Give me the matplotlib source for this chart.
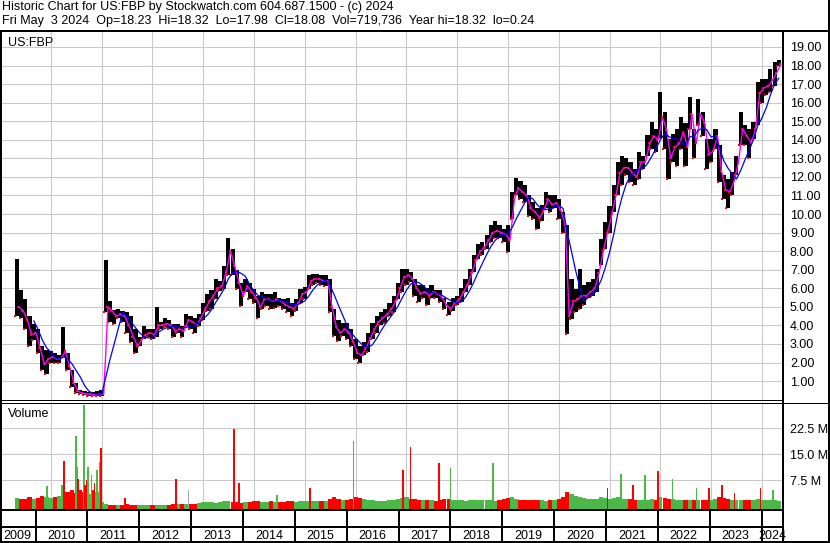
import numpy as np
import pandas as pd
import matplotlib
matplotlib.use("Agg")
import matplotlib.pyplot as plt
from matplotlib.lines import Line2D

W, H = 830, 543

# monthly bars, May 2009 .. May 2024
months = pd.date_range("2009-05-01", "2024-05-01", freq="MS")

hi = [7.6, 5.9, 5.4, 4.5, 4.1, 3.8, 2.9, 2.7,                        # 2009
      2.6, 2.5, 2.4, 3.9, 2.5, 1.6, 0.9, 0.5, 0.45, 0.4, 0.4, 0.45,  # 2010
      0.5, 7.5, 5.3, 4.85, 4.9, 4.8, 4.7, 4.5, 3.8, 3.4, 3.95, 3.8,  # 2011
      3.8, 5.0, 4.2, 4.4, 4.3, 4.1, 4.1, 3.95, 4.6, 4.5, 4.4, 4.6,   # 2012
      5.2, 5.7, 5.9, 6.5, 6.4, 7.2, 8.7, 8.1, 7.0, 6.3, 6.5, 6.3,    # 2013
      5.95, 5.6, 5.8, 5.7, 5.7, 5.8, 5.5, 5.4, 5.5, 5.2, 5.4, 5.95,  # 2014
      6.05, 6.7, 6.75, 6.75, 6.7, 6.7, 6.5, 4.9, 4.3, 4.15, 4.15, 3.8,  # 2015
      3.25, 2.9, 3.1, 3.6, 4.15, 4.5, 4.7, 4.9, 5.2, 5.6, 6.3, 7.05,    # 2016
      7.05, 6.9, 6.5, 6.15, 6.15, 6.0, 6.15, 5.9, 5.9, 5.45, 5.25, 5.45,  # 2017
      5.6, 6.0, 6.5, 7.05, 7.8, 8.4, 8.5, 8.85, 9.4, 9.6, 9.4, 9.2,       # 2018
      9.4, 11.2, 11.95, 11.8, 11.55, 11.0, 10.65, 10.3, 10.5, 11.2, 11.0, 11.0,  # 2019
      10.8, 10.1, 9.4, 6.5, 5.95, 7.05, 6.15, 6.35, 6.5, 7.05, 8.65, 9.55,       # 2020
      10.45, 11.55, 12.8, 13.15, 13.0, 12.8, 12.45, 13.35, 13.15, 14.25, 14.95, 14.6,  # 2021
      16.6, 15.5, 14.05, 14.3, 14.6, 15.2, 14.9, 16.3, 14.6, 16.2, 15.5, 14.05,       # 2022
      14.05, 14.6, 13.7, 12.1, 11.9, 12.25, 13.15, 15.5, 14.8, 14.6, 14.95, 17.1,     # 2023
      17.3, 17.3, 17.8, 18.2, 18.32]                                                 # 2024
lo = [4.5, 4.4, 3.8, 2.9, 3.2, 2.5, 1.6, 1.4,
      2.0, 2.0, 2.0, 2.3, 1.6, 0.7, 0.35, 0.3, 0.25, 0.2, 0.2, 0.2,
      0.2, 4.7, 4.2, 4.1, 4.4, 4.2, 3.6, 3.1, 2.5, 2.9, 3.25, 3.4,
      3.25, 3.4, 3.8, 3.9, 3.8, 3.35, 3.6, 3.35, 3.95, 3.8, 3.6, 3.95,
      4.3, 4.8, 4.9, 5.4, 5.85, 5.95, 6.7, 6.7, 5.95, 5.05, 5.8, 5.4,
      5.2, 4.4, 4.9, 5.05, 4.9, 4.95, 5.05, 4.9, 4.7, 4.5, 4.8, 5.2,
      5.4, 5.95, 6.2, 6.3, 6.2, 6.1, 4.7, 3.45, 3.15, 3.45, 3.25, 2.9,
      2.2, 2.0, 2.4, 2.55, 3.25, 3.6, 4.0, 4.15, 4.5, 4.7, 5.4, 5.8,
      6.15, 6.35, 5.6, 5.25, 5.45, 5.1, 5.45, 5.45, 5.25, 4.9, 4.55, 4.8,
      5.1, 5.25, 5.8, 6.15, 6.9, 7.6, 7.8, 8.1, 8.5, 8.7, 8.7, 8.5,
      7.95, 9.75, 11.0, 10.8, 10.65, 9.9, 9.75, 9.2, 9.6, 10.3, 10.1, 10.3,
      9.75, 9.0, 3.55, 4.35, 4.7, 4.9, 5.1, 5.45, 5.6, 5.8, 7.25, 8.1,
      9.0, 10.1, 11.0, 11.55, 12.1, 11.7, 11.55, 11.9, 12.45, 13.15, 13.5, 13.35,
      14.1, 13.5, 11.9, 12.8, 12.6, 13.5, 12.6, 14.6, 13.0, 14.8, 14.2, 12.45,
      12.8, 13.5, 11.7, 10.8, 10.3, 11.0, 12.1, 13.7, 13.7, 13.0, 14.05, 14.8,
      16.0, 16.4, 16.55, 16.9, 17.98]
cl = [5.0, 4.8, 4.3, 3.5, 3.6, 2.8, 1.9, 2.2,
      2.3, 2.2, 2.2, 2.6, 1.8, 0.9, 0.45, 0.35, 0.3, 0.3, 0.25, 0.3,
      0.3, 5.0, 4.8, 4.5, 4.6, 4.5, 4.0, 3.4, 2.9, 3.2, 3.5, 3.6,
      3.5, 4.0, 4.0, 4.1, 4.0, 3.7, 3.8, 3.7, 4.3, 4.2, 4.0, 4.4,
      4.9, 5.3, 5.6, 6.0, 6.1, 6.9, 8.0, 7.2, 6.3, 5.6, 6.1, 5.8,
      5.5, 5.0, 5.4, 5.4, 5.3, 5.4, 5.3, 5.1, 5.0, 4.9, 5.2, 5.7,
      5.8, 6.4, 6.5, 6.5, 6.4, 6.4, 5.0, 3.9, 3.6, 3.8, 3.6, 3.1,
      2.5, 2.4, 2.8, 3.3, 3.8, 4.2, 4.4, 4.6, 4.9, 5.3, 6.0, 6.6,
      6.7, 6.5, 6.0, 5.7, 5.8, 5.6, 5.8, 5.7, 5.5, 5.1, 4.9, 5.2,
      5.4, 5.8, 6.2, 6.8, 7.5, 8.0, 8.2, 8.6, 9.0, 9.1, 9.0, 8.9,
      8.6, 10.8, 11.4, 11.2, 11.0, 10.3, 10.1, 9.8, 10.2, 10.8, 10.5, 10.6,
      10.2, 9.4, 4.5, 5.3, 5.4, 5.6, 5.6, 5.8, 6.0, 6.8, 8.0, 9.0,
      9.9, 11.0, 12.2, 12.5, 12.5, 12.2, 12.0, 12.8, 12.8, 13.8, 14.2, 14.0,
      15.2, 14.5, 13.0, 13.6, 13.8, 14.4, 13.6, 15.4, 13.8, 15.4, 14.9, 13.2,
      13.4, 14.2, 12.3, 11.3, 11.2, 11.8, 12.8, 14.6, 14.2, 13.8, 14.6, 16.5,
      16.8, 16.9, 17.2, 17.6, 18.08]

# typical volume per month (millions)
vol = [2.5, 2.0, 2.2, 2.6, 2.0, 2.4, 3.0, 2.8,
       2.5, 2.6, 3.0, 3.6, 4.2, 4.6, 3.8, 4.6, 4.2, 3.6, 4.6, 4.0,
       1.2, 0.8, 0.5, 0.4, 0.4, 0.5, 0.6, 0.5, 0.4, 0.4, 0.4, 0.4,
       0.3, 0.3, 0.3, 0.3, 0.5, 0.6, 0.6, 0.7, 0.7, 0.8, 0.8, 0.9,
       1.2, 1.1, 1.3, 1.0, 1.2, 1.5, 1.6, 1.3, 1.1, 1.0, 1.2, 1.3,
       1.4, 1.6, 1.3, 1.2, 1.4, 1.3, 1.2, 1.3, 1.4, 1.5, 1.3, 1.4,
       1.6, 1.5, 1.4, 1.5, 1.4, 1.6, 2.2, 2.6, 2.2, 1.9, 1.8, 2.0,
       2.6, 2.4, 2.0, 1.8, 1.7, 1.6, 1.6, 1.5, 1.7, 1.8, 2.2, 2.4,
       2.6, 2.2, 2.0, 1.9, 1.8, 1.7, 1.8, 1.6, 1.7, 2.2, 2.0, 1.8,
       1.8, 1.7, 1.6, 1.8, 1.9, 1.8, 1.7, 1.8, 1.9, 1.6, 1.8, 2.0,
       2.4, 2.6, 2.2, 1.9, 1.8, 1.8, 1.9, 1.8, 1.7, 1.6, 1.7, 1.8,
       2.2, 2.8, 4.2, 3.6, 3.0, 2.8, 2.4, 2.2, 2.0, 2.2, 2.6, 2.4,
       2.2, 2.4, 2.6, 2.2, 2.0, 2.0, 1.9, 1.8, 1.8, 1.9, 2.0, 1.9,
       2.6, 2.4, 2.2, 2.0, 1.8, 1.8, 1.7, 1.8, 1.9, 1.8, 1.8, 1.7,
       1.8, 2.0, 2.6, 2.4, 2.2, 1.9, 1.8, 1.9, 1.8, 1.7, 1.7, 2.0,
       1.9, 1.8, 1.8, 1.7, 1.4]

# single heavy-volume days (decimal year, millions, colour)
spike_t = [2009.93, 2010.22, 2010.26, 2010.49, 2010.51, 2010.54, 2010.65, 2010.68,
           2010.72, 2010.74, 2010.80, 2010.86, 2010.91, 2010.97, 2010.99, 2011.46,
           2012.46, 2012.71, 2013.60, 2013.71, 2014.46, 2015.11, 2015.96, 2016.94,
           2017.08, 2017.64, 2017.87, 2018.70, 2020.96, 2021.22, 2021.46, 2021.70,
           2021.96, 2022.24, 2022.71, 2022.96, 2023.22, 2023.46, 2023.97, 2024.21]
spike_v = [5.9, 6.1, 13.1, 20.3, 11.4, 8.0, 29.2, 6.1,
           7.6, 11.4, 9.0, 6.6, 10.5, 12.9, 16.7, 2.5,
           7.9, 4.7, 22.3, 6.6, 3.3, 5.2, 18.8, 10.4,
           17.1, 12.5, 11.0, 12.5, 5.3, 9.3, 6.1, 9.0,
           10.2, 7.9, 5.4, 5.3, 6.1, 3.7, 5.3, 4.7]
spike_c = ["g", "g", "r", "g", "g", "r", "g", "r",
           "r", "g", "g", "r", "g", "g", "r", "r",
           "r", "n", "r", "r", "g", "r", "g", "r",
           "r", "r", "g", "g", "r", "g", "r", "g",
           "r", "g", "g", "r", "r", "r", "r", "g"]

price_ticks = np.arange(1, 20)
vol_ticks = [7.5, 15.0, 22.5]
years = list(range(2009, 2025))

GREEN, RED, GRAY = "#4cb848", "#ff0000", "#a8a8a8"
GRID = "#c8c8c8"
colmap = {"g": GREEN, "r": RED, "n": GRAY}

t = np.asarray(months.year + (months.dayofyear - 1) / 365.25, dtype=float)
hi, lo, cl, vol = map(np.asarray, (hi, lo, cl, vol))
ma_slow = pd.Series(cl).rolling(5).mean()

X0 = 2010 - 35.5 / 51.86
X1 = X0 + 783 / 51.86

plt.rcParams["font.family"] = ["Liberation Sans", "DejaVu Sans"]
fig = plt.figure(figsize=(W / 100, H / 100), dpi=100)


def box(x0, y0, x1, y1):
    return [x0 / W, 1 - y1 / H, (x1 - x0) / W, (y1 - y0) / H]


def fline(xs, ys, lw=1.0):
    fig.add_artist(Line2D([x / W for x in xs], [1 - y / H for y in ys],
                          transform=fig.transFigure, color="black",
                          lw=lw * 0.72, solid_capstyle="butt"))


# price panel
ax = fig.add_axes(box(0, 31, 783, 400))
ax.set_xlim(X0, X1)
ax.set_ylim(-0.02, 19.86)
ax.bar(t, hi - lo, bottom=lo, width=1 / 12, color="black", lw=0, zorder=2)
ax.scatter(t + 1 / 36, cl, marker="s", s=3, color=RED, lw=0, zorder=3)
ax.scatter(t - 1 / 36, lo, marker="s", s=2, color=RED, lw=0, zorder=3)
ax.plot(t + 1 / 24, cl, color="#ff00ff", lw=1.0, zorder=4)
ax.plot(t, ma_slow, color="#0000ff", lw=0.9, zorder=5)
ax.set_yticks(price_ticks)
ax.set_yticklabels([f"{v:.2f}" for v in price_ticks])
ax.set_xticks(years)
ax.text(8 / 783, 1 - 12 / 369, "US:FBP", transform=ax.transAxes,
        fontsize=9, va="center", ha="left")

# volume panel
av = fig.add_axes(box(0, 402, 783, 509))
av.set_xlim(X0, X1)
vb = -0.78
av.set_ylim(vb, 30.08)
prev = np.r_[cl[0], cl[:-1]]
vcol = [GREEN if c >= p else RED for c, p in zip(cl, prev)]
av.bar(t, vol - vb, bottom=vb, width=1 / 12, color=vcol, lw=0, zorder=2)
av.bar(spike_t, np.asarray(spike_v) - vb, bottom=vb, width=0.036,
       color=[colmap[c] for c in spike_c], lw=0, zorder=3)
av.set_yticks(vol_ticks)
av.set_yticklabels([f"{v:.1f} M" for v in vol_ticks])
av.set_xticks(years)
av.text(8 / 783, 1 - 12 / 107, "Volume", transform=av.transAxes,
        fontsize=9, va="center", ha="left")

for a in (ax, av):
    a.grid(True, color=GRID, lw=0.75)
    a.set_axisbelow(True)
    a.yaxis.tick_right()
    a.tick_params(axis="y", length=0, pad=5, labelsize=9)
    a.tick_params(axis="x", length=0, labelbottom=False)
    for s in a.spines.values():
        s.set_visible(False)

# year strip
ay = fig.add_axes(box(0, 510, 783, 543))
ay.set_xlim(X0, X1)
ay.set_ylim(0, 1)
ay.axis("off")
ay.vlines(years[1:], 0, 1, color="black", lw=1.4)
edges = [X0] + years[1:] + [X1]
for yr, a, b in zip(years, edges[:-1], edges[1:]):
    ay.text((a + b) / 2, 0.2, str(yr), ha="center", va="center", fontsize=9)

# frame lines
fline([0, 830], [30.5, 30.5], 2)
fline([782.5, 782.5], [30, 543], 2)
fline([0, 783], [400, 400], 1)
fline([0, 830], [402.5, 402.5], 1)
fline([0, 783], [509.5, 509.5], 2)
fline([0, 783], [527, 527], 2)
fline([0.8, 0.8], [30, 543], 2)
fline([829.2, 829.2], [0, 543], 2)
fline([0, 830], [542.2, 542.2], 2)

# header
fig.text(2 / W, 1 - 1 / H,
         "Historic Chart for US:FBP by Stockwatch.com 604.687.1500 - (c) 2024",
         fontsize=9, va="top", ha="left")
fig.text(2 / W, 1 - 15 / H,
         "Fri May  3 2024  Op=18.23  Hi=18.32  Lo=17.98  Cl=18.08  "
         "Vol=719,736  Year hi=18.32  lo=0.24",
         fontsize=9, va="top", ha="left")

fig.savefig("out.png", dpi=100)
